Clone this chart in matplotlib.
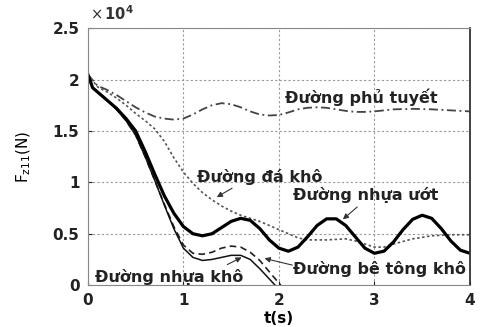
import numpy as np
import matplotlib.pyplot as plt

# values, force in units of 1e4 N
t_wet = [0, 0.05, 0.1, 0.2, 0.3, 0.4, 0.5, 0.6, 0.7, 0.8, 0.9, 1.0, 1.1, 1.2, 1.3, 1.4,
         1.5, 1.6, 1.7, 1.8, 1.9, 2.0, 2.1, 2.2, 2.3, 2.4, 2.5, 2.6, 2.7, 2.8, 2.9, 3.0,
         3.1, 3.2, 3.3, 3.4, 3.5, 3.6, 3.7, 3.8, 3.9, 4.0]
f_wet = [2.05, 1.92, 1.88, 1.80, 1.72, 1.62, 1.50, 1.30, 1.08, 0.87, 0.70, 0.57, 0.50, 0.48,
         0.50, 0.56, 0.62, 0.65, 0.63, 0.55, 0.44, 0.36, 0.33, 0.37, 0.47, 0.58, 0.645, 0.645,
         0.58, 0.47, 0.36, 0.31, 0.33, 0.42, 0.54, 0.64, 0.68, 0.65, 0.55, 0.43, 0.34, 0.31]

t_dry = [0, 0.05, 0.1, 0.2, 0.3, 0.4, 0.5, 0.6, 0.7, 0.8, 0.9, 1.0, 1.1, 1.2, 1.3, 1.4,
         1.5, 1.6, 1.7, 1.8, 1.9, 1.96]
f_dry = [2.05, 1.92, 1.88, 1.80, 1.71, 1.60, 1.46, 1.25, 1.02, 0.78, 0.55, 0.36, 0.27, 0.24,
         0.25, 0.27, 0.29, 0.29, 0.25, 0.16, 0.06, 0.0]

t_con = [0, 0.05, 0.1, 0.2, 0.3, 0.4, 0.5, 0.6, 0.7, 0.8, 0.9, 1.0, 1.1, 1.2, 1.3, 1.4,
         1.5, 1.6, 1.7, 1.8, 1.9, 2.0, 2.02]
f_con = [2.05, 1.92, 1.88, 1.80, 1.71, 1.60, 1.46, 1.25, 1.02, 0.79, 0.57, 0.39, 0.31, 0.30,
         0.32, 0.36, 0.38, 0.37, 0.32, 0.24, 0.13, 0.02, 0.0]

t_grv = [0, 0.1, 0.2, 0.3, 0.4, 0.5, 0.6, 0.7, 0.8, 0.9, 1.0, 1.1, 1.2, 1.3, 1.4, 1.5,
         1.6, 1.7, 1.8, 1.9, 2.0, 2.1, 2.2, 2.3, 2.5, 2.7, 2.8, 2.9, 3.0, 3.1, 3.2, 3.4,
         3.6, 3.8, 4.0]
f_grv = [2.05, 1.93, 1.88, 1.82, 1.75, 1.67, 1.60, 1.52, 1.40, 1.24, 1.10, 0.99, 0.90, 0.83,
         0.77, 0.72, 0.68, 0.65, 0.62, 0.58, 0.54, 0.50, 0.46, 0.44, 0.44, 0.45, 0.43, 0.40,
         0.37, 0.37, 0.40, 0.45, 0.48, 0.49, 0.49]

t_snow = [0, 0.1, 0.2, 0.3, 0.4, 0.5, 0.6, 0.7, 0.8, 0.9, 1.0, 1.1, 1.2, 1.3, 1.4, 1.5,
          1.6, 1.7, 1.8, 1.9, 2.0, 2.1, 2.2, 2.3, 2.4, 2.5, 2.6, 2.7, 2.8, 2.9, 3.0, 3.2,
          3.4, 3.6, 3.8, 4.0]
f_snow = [2.05, 1.94, 1.90, 1.85, 1.79, 1.73, 1.68, 1.64, 1.62, 1.61, 1.62, 1.66, 1.71, 1.75,
          1.77, 1.76, 1.73, 1.69, 1.66, 1.65, 1.655, 1.68, 1.71, 1.725, 1.73, 1.725, 1.71,
          1.695, 1.685, 1.685, 1.69, 1.71, 1.715, 1.71, 1.70, 1.69]

scale = 1e4

fig = plt.figure(figsize=(4.8, 3.27), dpi=100)
ax = fig.add_axes([0.183, 0.128, 0.796, 0.786])

ax.plot(t_snow, np.array(f_snow) * scale, color='#444444', lw=1.3, ls=(0, (5, 2, 1, 2)))
ax.plot(t_grv, np.array(f_grv) * scale, color='#555555', lw=1.2, ls=(0, (1.5, 1.5)))
ax.plot(t_con, np.array(f_con) * scale, color='#222222', lw=1.2, ls=(0, (4, 2.5)))
ax.plot(t_dry, np.array(f_dry) * scale, color='#111111', lw=1.1)
ax.plot(t_wet, np.array(f_wet) * scale, color='black', lw=2.3)

ax.set_xlim(0, 4)
ax.set_ylim(0, 2.5e4)
ax.set_xticks([0, 1, 2, 3, 4])
ax.set_yticks([0, 0.5e4, 1e4, 1.5e4, 2e4, 2.5e4])
ax.set_yticklabels(['0', '0.5', '1', '1.5', '2', '2.5'])
ax.grid(True, color='#999999', ls=(0, (2, 2)), lw=0.8)
ax.tick_params(direction='in', length=3, labelsize=11, colors='#222222', pad=6)
for lab in ax.get_xticklabels() + ax.get_yticklabels():
    lab.set_fontweight('bold')
for side in ['left', 'top', 'bottom']:
    ax.spines[side].set_color('#888888')
    ax.spines[side].set_linestyle((0, (2, 1)))
ax.spines['right'].set_color('#333333')
ax.spines['right'].set_linewidth(1.3)

fig.text(0.187, 0.94, r'$\times\,\mathbf{10^4}$', fontsize=10.5, color='#333333')
ax.set_xlabel('t(s)', fontsize=11, fontweight='bold', labelpad=2)
ax.set_ylabel(r'F$_{\mathregular{z11}}$(N)', fontsize=11, labelpad=14)

txt = dict(fontsize=11.5, fontweight='bold', color='#222222', va='center')
arr = dict(arrowstyle='-|>', color='#333333', lw=0.8, mutation_scale=8,
           shrinkA=0, shrinkB=0)
ax.text(2.06, 1.83e4, 'Đường phủ tuyết', **txt)
ax.text(1.14, 1.05e4, 'Đường đá khô', **txt)
ax.text(2.15, 0.875e4, 'Đường nhựa ướt', **txt)
ax.text(2.15, 0.155e4, 'Đường bê tông khô', **txt)
ax.text(0.08, 0.08e4, 'Đường nhựa khô', **txt)

ax.annotate('', xy=(1.35, 0.856e4), xytext=(1.51, 0.943e4), arrowprops=arr)
ax.annotate('', xy=(2.67, 0.64e4), xytext=(2.82, 0.76e4), arrowprops=arr)
ax.annotate('', xy=(1.85, 0.26e4), xytext=(2.14, 0.195e4), arrowprops=arr)
ax.annotate('', xy=(1.61, 0.27e4), xytext=(1.46, 0.20e4), arrowprops=arr)

fig.savefig('out.png', dpi=100)
